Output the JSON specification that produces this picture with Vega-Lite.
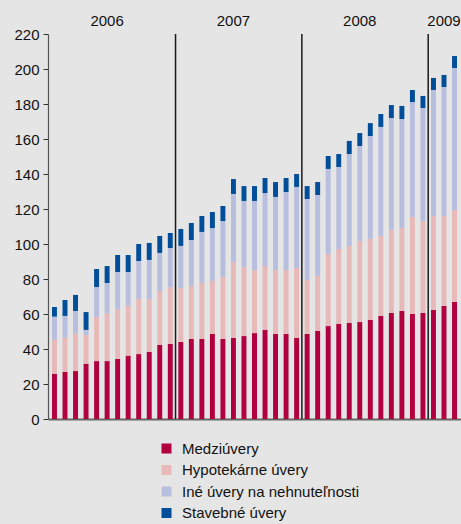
{
  "$schema": "https://vega.github.io/schema/vega-lite/v6.json",
  "width": 413,
  "height": 385,
  "autosize": "none",
  "padding": {"left": 48, "top": 34, "right": 0, "bottom": 105},
  "background": "#e5e5e5",
  "config": {
    "view": {"stroke": null},
    "font": "Liberation Sans",
    "axis": {"labelFont": "Liberation Sans", "labelColor": "#111111"},
    "legend": {"labelFont": "Liberation Sans"}
  },
  "data": {
    "values": [
      {"m": "2006-01", "Medziúvery": 25.9, "Hypotekárne úvery": 19.4, "Iné úvery na nehnuteľnosti": 13.2, "Stavebné úvery": 5.5},
      {"m": "2006-02", "Medziúvery": 26.9, "Hypotekárne úvery": 19.6, "Iné úvery na nehnuteľnosti": 12.4, "Stavebné úvery": 9.1},
      {"m": "2006-03", "Medziúvery": 27.4, "Hypotekárne úvery": 21.4, "Iné úvery na nehnuteľnosti": 12.9, "Stavebné úvery": 9.2},
      {"m": "2006-04", "Medziúvery": 31.6, "Hypotekárne úvery": 16.4, "Iné úvery na nehnuteľnosti": 2.9, "Stavebné úvery": 10.2},
      {"m": "2006-05", "Medziúvery": 33.1, "Hypotekárne úvery": 25.2, "Iné úvery na nehnuteľnosti": 17.1, "Stavebné úvery": 10.3},
      {"m": "2006-06", "Medziúvery": 33.1, "Hypotekárne úvery": 27.1, "Iné úvery na nehnuteľnosti": 17.5, "Stavebné úvery": 9.7},
      {"m": "2006-07", "Medziúvery": 34.3, "Hypotekárne úvery": 28.2, "Iné úvery na nehnuteľnosti": 21.5, "Stavebné úvery": 9.7},
      {"m": "2006-08", "Medziúvery": 36.2, "Hypotekárne úvery": 28.6, "Iné úvery na nehnuteľnosti": 19.2, "Stavebné úvery": 9.7},
      {"m": "2006-09", "Medziúvery": 37.1, "Hypotekárne úvery": 31.5, "Iné úvery na nehnuteľnosti": 21.7, "Stavebné úvery": 9.7},
      {"m": "2006-10", "Medziúvery": 38.3, "Hypotekárne úvery": 30.3, "Iné úvery na nehnuteľnosti": 22.3, "Stavebné úvery": 9.7},
      {"m": "2006-11", "Medziúvery": 42.3, "Hypotekárne úvery": 30.8, "Iné úvery na nehnuteľnosti": 21.8, "Stavebné úvery": 9.7},
      {"m": "2006-12", "Medziúvery": 42.9, "Hypotekárne úvery": 32.3, "Iné úvery na nehnuteľnosti": 22.5, "Stavebné úvery": 8.6},
      {"m": "2007-01", "Medziúvery": 44.0, "Hypotekárne úvery": 30.9, "Iné úvery na nehnuteľnosti": 24.0, "Stavebné úvery": 9.7},
      {"m": "2007-02", "Medziúvery": 45.7, "Hypotekárne úvery": 30.3, "Iné úvery na nehnuteľnosti": 26.3, "Stavebné úvery": 9.7},
      {"m": "2007-03", "Medziúvery": 45.7, "Hypotekárne úvery": 32.0, "Iné úvery na nehnuteľnosti": 29.2, "Stavebné úvery": 9.1},
      {"m": "2007-04", "Medziúvery": 48.6, "Hypotekárne úvery": 30.3, "Iné úvery na nehnuteľnosti": 30.2, "Stavebné úvery": 9.2},
      {"m": "2007-05", "Medziúvery": 45.7, "Hypotekárne úvery": 35.4, "Iné úvery na nehnuteľnosti": 32.0, "Stavebné úvery": 8.6},
      {"m": "2007-06", "Medziúvery": 46.3, "Hypotekárne úvery": 43.4, "Iné úvery na nehnuteľnosti": 38.9, "Stavebné úvery": 8.5},
      {"m": "2007-07", "Medziúvery": 47.4, "Hypotekárne úvery": 39.5, "Iné úvery na nehnuteľnosti": 37.7, "Stavebné úvery": 8.5},
      {"m": "2007-08", "Medziúvery": 49.1, "Hypotekárne úvery": 36.0, "Iné úvery na nehnuteľnosti": 39.5, "Stavebné úvery": 8.5},
      {"m": "2007-09", "Medziúvery": 50.9, "Hypotekárne úvery": 36.5, "Iné úvery na nehnuteľnosti": 41.7, "Stavebné úvery": 8.6},
      {"m": "2007-10", "Medziúvery": 48.6, "Hypotekárne úvery": 36.5, "Iné úvery na nehnuteľnosti": 41.8, "Stavebné úvery": 8.5},
      {"m": "2007-11", "Medziúvery": 48.6, "Hypotekárne úvery": 36.5, "Iné úvery na nehnuteľnosti": 44.6, "Stavebné úvery": 8.0},
      {"m": "2007-12", "Medziúvery": 46.3, "Hypotekárne úvery": 40.0, "Iné úvery na nehnuteľnosti": 46.3, "Stavebné úvery": 7.4},
      {"m": "2008-01", "Medziúvery": 48.6, "Hypotekárne úvery": 30.8, "Iné úvery na nehnuteľnosti": 46.3, "Stavebné úvery": 7.4},
      {"m": "2008-02", "Medziúvery": 50.3, "Hypotekárne úvery": 31.4, "Iné úvery na nehnuteľnosti": 46.3, "Stavebné úvery": 7.4},
      {"m": "2008-03", "Medziúvery": 53.1, "Hypotekárne úvery": 41.2, "Iné úvery na nehnuteľnosti": 48.6, "Stavebné úvery": 7.4},
      {"m": "2008-04", "Medziúvery": 54.3, "Hypotekárne úvery": 42.8, "Iné úvery na nehnuteľnosti": 46.9, "Stavebné úvery": 7.4},
      {"m": "2008-05", "Medziúvery": 54.9, "Hypotekárne úvery": 44.0, "Iné úvery na nehnuteľnosti": 52.5, "Stavebné úvery": 7.5},
      {"m": "2008-06", "Medziúvery": 55.4, "Hypotekárne úvery": 46.3, "Iné úvery na nehnuteľnosti": 54.3, "Stavebné úvery": 7.4},
      {"m": "2008-07", "Medziúvery": 56.6, "Hypotekárne úvery": 46.3, "Iné úvery na nehnuteľnosti": 58.8, "Stavebné úvery": 7.4},
      {"m": "2008-08", "Medziúvery": 58.9, "Hypotekárne úvery": 45.7, "Iné úvery na nehnuteľnosti": 62.3, "Stavebné úvery": 7.4},
      {"m": "2008-09", "Medziúvery": 60.6, "Hypotekárne úvery": 47.4, "Iné úvery na nehnuteľnosti": 64.0, "Stavebné úvery": 7.4},
      {"m": "2008-10", "Medziúvery": 61.7, "Hypotekárne úvery": 47.4, "Iné úvery na nehnuteľnosti": 62.3, "Stavebné úvery": 7.5},
      {"m": "2008-11", "Medziúvery": 60.0, "Hypotekárne úvery": 55.4, "Iné úvery na nehnuteľnosti": 65.7, "Stavebné úvery": 6.9},
      {"m": "2008-12", "Medziúvery": 60.6, "Hypotekárne úvery": 52.5, "Iné úvery na nehnuteľnosti": 64.6, "Stavebné úvery": 6.9},
      {"m": "2009-01", "Medziúvery": 62.3, "Hypotekárne úvery": 53.7, "Iné úvery na nehnuteľnosti": 72.0, "Stavebné úvery": 6.9},
      {"m": "2009-02", "Medziúvery": 64.6, "Hypotekárne úvery": 51.4, "Iné úvery na nehnuteľnosti": 73.7, "Stavebné úvery": 6.9},
      {"m": "2009-03", "Medziúvery": 66.9, "Hypotekárne úvery": 52.5, "Iné úvery na nehnuteľnosti": 81.2, "Stavebné úvery": 6.8}
    ]
  },
  "layer": [
    {
      "transform": [
        {"fold": ["Medziúvery", "Hypotekárne úvery", "Iné úvery na nehnuteľnosti", "Stavebné úvery"], "as": ["s", "v"]},
        {"calculate": "indexof(['Medziúvery', 'Hypotekárne úvery', 'Iné úvery na nehnuteľnosti', 'Stavebné úvery'], datum.s)", "as": "o"}
      ],
      "mark": {"type": "bar"},
      "encoding": {
        "x": {
          "field": "m",
          "type": "ordinal",
          "scale": {"paddingInner": 0.53, "paddingOuter": 0.38},
          "axis": {
            "orient": "top",
            "title": null,
            "domain": false,
            "ticks": false,
            "labelAngle": 0,
            "labelOverlap": false,
            "labelBound": false,
            "labelFontSize": 15,
            "labelColor": "#111111",
            "labelPadding": 6,
            "labelExpr": "(slice(datum.value, 5) == '06' || datum.value == '2009-02') ? slice(datum.value, 0, 4) : ''",
            "encode": {"labels": {"update": {"dx": {"signal": "datum.value == '2009-02' ? 0 : 7"}}}}
          }
        },
        "y": {
          "field": "v",
          "type": "quantitative",
          "stack": "zero",
          "scale": {"domain": [0, 220], "nice": false},
          "axis": {
            "title": null,
            "values": [0, 20, 40, 60, 80, 100, 120, 140, 160, 180, 200, 220],
            "grid": false,
            "domainColor": "#555555",
            "domainWidth": 1.2,
            "tickColor": "#333333",
            "tickSize": 5,
            "labelPadding": 4,
            "labelFontSize": 15,
            "labelColor": "#111111"
          }
        },
        "color": {
          "field": "s",
          "type": "nominal",
          "scale": {
            "domain": ["Medziúvery", "Hypotekárne úvery", "Iné úvery na nehnuteľnosti", "Stavebné úvery"],
            "range": ["#b2003f", "#e7b9b9", "#b8bedd", "#004e99"]
          },
          "legend": {
            "title": null,
            "orient": "none",
            "direction": "vertical",
            "legendX": 111,
            "legendY": 407,
            "symbolType": "square",
            "symbolSize": 100,
            "symbolOpacity": 1,
            "symbolStrokeWidth": 0,
            "labelFontSize": 15,
            "labelLimit": 0,
            "labelColor": "#111111",
            "labelOffset": 8,
            "rowPadding": 5.5
          }
        },
        "order": {"field": "o", "type": "quantitative", "sort": "ascending"}
      }
    },
    {
      "transform": [
        {"filter": "datum.m == '2007-01' || datum.m == '2008-01' || datum.m == '2009-01'"}
      ],
      "mark": {"type": "rule", "color": "#1a1a1a", "strokeWidth": 1.5, "xOffset": -2.8},
      "encoding": {
        "x": {
          "field": "m",
          "type": "ordinal",
          "bandPosition": 0,
          "axis": {
            "orient": "bottom",
            "title": null,
            "labels": false,
            "ticks": false,
            "domainColor": "#666666",
            "domainWidth": 2
          }
        }
      }
    }
  ]
}
